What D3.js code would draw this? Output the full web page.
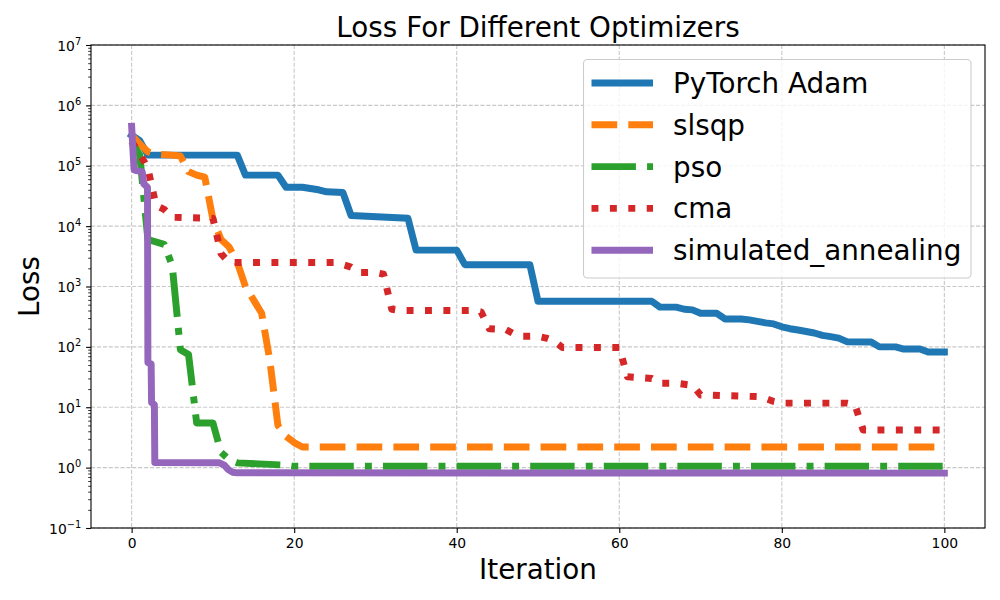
<!DOCTYPE html>
<html>
<head>
<meta charset="utf-8">
<script src="https://cdn.jsdelivr.net/npm/d3@7"></script>
<style>
  html, body { margin: 0; padding: 0; background: #fff; }
  svg { display: block; font-family: "DejaVu Sans", sans-serif; }
</style>
</head>
<body>
<svg id="chart" width="1000" height="600"></svg>
<script>
// ---- data ----
const adamIter = [0,1,2,13,14,18,19,21,23,24,26,27,34,35,40,41,49,50,64,65,67,68,69,70,72,73,75,76,77,78,79,80,81,82,83,84,85,86,87,88,91,92,94,95,97,98,100];
const adamLoss = [3.2e5,2.6e5,1.5e5,1.5e5,7e4,7e4,4.4e4,4.4e4,4.0e4,3.7e4,3.6e4,1.5e4,1.35e4,4e3,4e3,2.3e3,2.3e3,570,570,455,455,420,410,360,360,290,290,280,265,250,240,215,200,190,180,170,155,148,140,122,120,100,100,92,92,82,82];

const slsqpIter = [0,1,2,3,5,6,7,8,9,10,11,12,13,14,15,16,17,18,19,20,21,100];
const slsqpLoss = [3.2e5,2.3e5,1.7e5,1.55e5,1.5e5,1.45e5,8e4,7e4,6.5e4,1.3e4,6e3,4.5e3,2.5e3,1e3,600,360,60,5,3.3,2.6,2.2,2.2];

const psoIter = [0,1,2,4,5,6,7,8,10,11,12,13,19,20,100];
const psoLoss = [2.5e5,1.5e5,6e3,5e3,2.2e3,90,75,5.5,5.5,1.8,1.35,1.2,1.1,1.05,1.05];

const cmaIter = [0,1,2,3,4,5,10,11,12,25,26,27,28,30,31,32,33,42,43,44,46,47,48,50,51,52,53,60,61,64,65,67,68,69,70,75,77,78,79,80,88,89,90,100];
const cmaLoss = [2.5e5,1.6e5,9e4,2.2e4,1.9e4,1.4e4,1.35e4,3.5e3,2.5e3,2.5e3,2.3e3,2.1e3,1.7e3,1.7e3,1.6e3,420,400,400,380,200,195,165,150,150,140,125,98,98,32,30,25,25,24,23,16,15.3,15,14,12.5,11.7,11.7,11,4.2,4.2];

const saIter = [0,0.3,0.6,1.3,1.5,1.95,2.0,2.4,2.45,2.8,2.85,10.8,11.4,11.9,12.4,13,100];
const saLoss = [4.5e5,8.5e4,8.3e4,8e4,5e4,4.4e4,55,52,12,11,1.22,1.2,1.1,0.93,0.84,0.82,0.81];

const seriesNames = ["PyTorch Adam","slsqp","pso","cma","simulated_annealing"];
const seriesColors = ["#1f77b4","#ff7f0e","#2ca02c","#d62728","#9467bd"];
const xTicks = [0,20,40,60,80,100];
const yTickExps = [-1,0,1,2,3,4,5,6,7];

// ---- layout ----
const svg = d3.select("#chart");
const L = 91, R = 985, T = 45, B = 528;
const lw = 5 * 100 / 72; // 5pt line width
const dashes = [null, [3.7*lw,1.6*lw], [6.4*lw,1.6*lw,1*lw,1.6*lw], [1*lw,1.65*lw], null];

const x = d3.scaleLinear().domain([-5,105]).range([L,R]);
const y = d3.scaleLog().domain([1e-1,1e7]).range([B,T]);

svg.append("rect").attr("width",1000).attr("height",600).attr("fill","#fff");

// grid
const grid = svg.append("g");
xTicks.forEach(t => grid.append("line")
  .attr("x1",x(t)).attr("x2",x(t)).attr("y1",T).attr("y2",B)
  .attr("stroke","#b0b0b0").attr("stroke-opacity",0.7).attr("stroke-width",1.1).attr("stroke-dasharray","4.1,1.8"));
yTickExps.forEach(e => grid.append("line")
  .attr("x1",L).attr("x2",R).attr("y1",y(Math.pow(10,e))).attr("y2",y(Math.pow(10,e)))
  .attr("stroke","#b0b0b0").attr("stroke-opacity",0.7).attr("stroke-width",1.1).attr("stroke-dasharray","4.1,1.8"));

// clip
svg.append("clipPath").attr("id","clip").append("rect").attr("x",L).attr("y",T).attr("width",R-L).attr("height",B-T);

const allSeries = [
  [adamIter, adamLoss],
  [slsqpIter, slsqpLoss],
  [psoIter, psoLoss],
  [cmaIter, cmaLoss],
  [saIter, saLoss]
];
const line = d3.line().x(d => x(d[0])).y(d => y(d[1]));
const plot = svg.append("g").attr("clip-path","url(#clip)");
allSeries.forEach((s, i) => {
  const pts = s[0].map((v, k) => [v, s[1][k]]);
  const p = plot.append("path").datum(pts).attr("d", line)
    .attr("fill","none").attr("stroke",seriesColors[i]).attr("stroke-width",lw)
    .attr("stroke-linejoin","round");
  if (dashes[i]) p.attr("stroke-dasharray", dashes[i].join(",")).attr("stroke-linecap","butt");
  else p.attr("stroke-linecap","square");
});

// axes
const xAxis = d3.axisBottom(x).tickValues(xTicks).tickSize(4.9).tickPadding(4.9).tickFormat(d3.format("d"));
const gx = svg.append("g").attr("transform",`translate(0,${B})`).call(xAxis);
gx.select(".domain").remove();
gx.selectAll(".tick line").attr("stroke","#000").attr("stroke-width",1.1);
gx.selectAll(".tick text").attr("font-size",13.9).attr("font-family","DejaVu Sans").attr("fill","#000");

// y major ticks
const majorVals = yTickExps.map(e => Math.pow(10,e));
const yAxis = d3.axisLeft(y).tickValues(majorVals).tickSize(4.9).tickPadding(4.9).tickFormat("");
const gy = svg.append("g").attr("transform",`translate(${L},0)`).call(yAxis);
gy.select(".domain").remove();
gy.selectAll(".tick line").attr("stroke","#000").attr("stroke-width",1.1);
// y minor ticks
const minorVals = [];
for (let e = -1; e < 7; e++) for (let m = 2; m <= 9; m++) minorVals.push(m * Math.pow(10,e));
const gym = svg.append("g").attr("transform",`translate(${L},0)`)
  .call(d3.axisLeft(y).tickValues(minorVals).tickSize(2.8).tickFormat(""));
gym.select(".domain").remove();
gym.selectAll(".tick line").attr("stroke","#000").attr("stroke-width",0.8);
// y tick labels 10^n
gy.selectAll(".tick").each(function(d) {
  const e = Math.round(Math.log10(d));
  const t = d3.select(this).append("text")
    .attr("x",-9.8).attr("y",5).attr("text-anchor","end")
    .attr("font-size",13.9).attr("font-family","DejaVu Sans").attr("fill","#000");
  t.append("tspan").text("10");
  t.append("tspan").attr("font-size",9.8).attr("dy",-6).text(e < 0 ? "\u2212" + (-e) : String(e));
});

// spines
svg.append("rect").attr("x",L).attr("y",T).attr("width",R-L).attr("height",B-T)
  .attr("fill","none").attr("stroke","#000").attr("stroke-width",1.1);

// title and labels
svg.append("text").attr("x",(L+R)/2).attr("y",37).attr("text-anchor","middle")
  .attr("font-size",27.8).attr("fill","#000").text("Loss For Different Optimizers");
svg.append("text").attr("x",(L+R)/2).attr("y",579).attr("text-anchor","middle")
  .attr("font-size",27.8).attr("fill","#000").text("Iteration");
svg.append("text").attr("transform",`translate(39,${(T+B)/2}) rotate(-90)`).attr("text-anchor","middle")
  .attr("font-size",27.8).attr("fill","#000").text("Loss");

// legend
const lg = svg.append("g");
lg.append("rect").attr("x",583.5).attr("y",59.5).attr("width",387.5).attr("height",218.5).attr("rx",4)
  .attr("fill","#fff").attr("fill-opacity",0.8).attr("stroke","#ccc").attr("stroke-width",1.1);
seriesNames.forEach((n, i) => {
  const yy = 83 + i * 41.8;
  const h = lg.append("line").attr("x1",591.5).attr("x2",653).attr("y1",yy).attr("y2",yy)
    .attr("stroke",seriesColors[i]).attr("stroke-width",lw);
  if (dashes[i]) h.attr("stroke-dasharray",dashes[i].join(",")).attr("stroke-linecap","butt");
  lg.append("text").attr("x",673).attr("y",yy + 10).attr("font-size",27.8).attr("fill","#000").text(n);
});
</script>
</body>
</html>
